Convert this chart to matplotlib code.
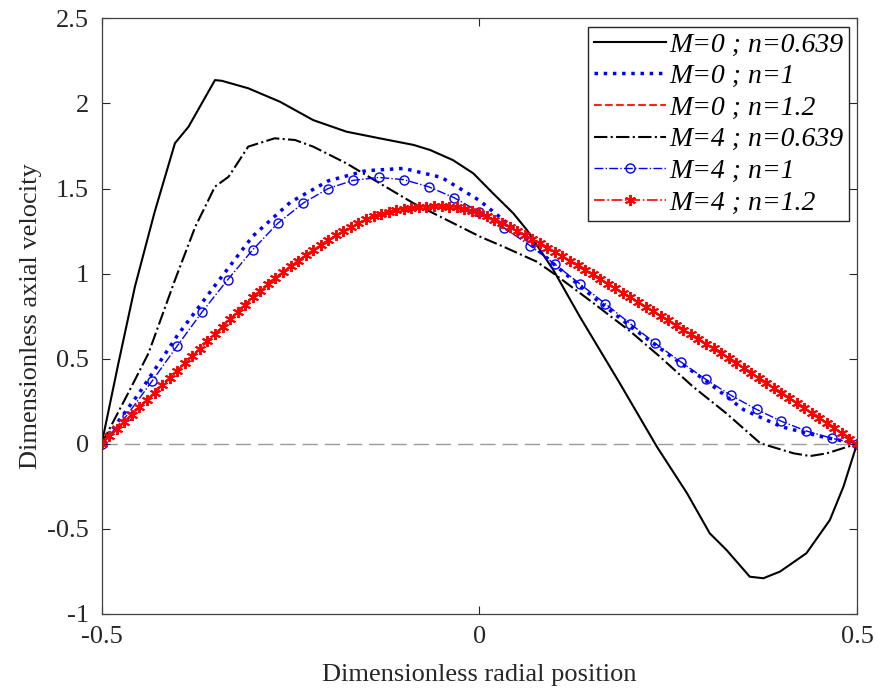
import matplotlib
matplotlib.use('Agg')
import matplotlib.pyplot as plt
import numpy as np

plt.rcParams['font.family'] = ['Liberation Serif', 'DejaVu Serif']
plt.rcParams['axes.unicode_minus'] = False

# M=0 ; n=0.639
x_m0_n0639 = [-0.500, -0.478, -0.456, -0.430, -0.403, -0.385, -0.350, -0.341, -0.306,
              -0.264, -0.220, -0.176, -0.132, -0.087, -0.065, -0.035, -0.008, 0.018,
              0.045, 0.063, 0.098, 0.133, 0.186, 0.235, 0.275, 0.305, 0.327, 0.358,
              0.376, 0.398, 0.433, 0.464, 0.482, 0.500]
u_m0_n0639 = [0.000, 0.470, 0.923, 1.360, 1.766, 1.863, 2.137, 2.133, 2.089,
              2.010, 1.902, 1.834, 1.795, 1.756, 1.726, 1.667, 1.589, 1.472,
              1.354, 1.256, 1.021, 0.747, 0.355, -0.017, -0.291, -0.526, -0.623, -0.781,
              -0.790, -0.751, -0.643, -0.448, -0.252, 0.000]

# M=0 ; n=1
x_m0_n1 = [-0.50, -0.45, -0.40, -0.35, -0.30, -0.25, -0.20, -0.15, -0.10, -0.05, 0.00,
           0.05, 0.10, 0.15, 0.20, 0.25, 0.30, 0.35, 0.40, 0.45, 0.50]
u_m0_n1 = [0.000, 0.300, 0.635, 0.930, 1.220, 1.420, 1.545, 1.605, 1.618, 1.565, 1.430,
           1.250, 1.050, 0.865, 0.690, 0.525, 0.370, 0.200, 0.100, 0.045, 0.000]

# M=0 ; n=1.2
x_m0_n12 = [-0.50, -0.45, -0.40, -0.35, -0.30, -0.25, -0.20, -0.15, -0.10, -0.05, 0.00,
            0.05, 0.10, 0.15, 0.20, 0.25, 0.30, 0.35, 0.40, 0.45, 0.50]
u_m0_n12 = [0.000, 0.215, 0.430, 0.645, 0.860, 1.043, 1.197, 1.318, 1.381, 1.396, 1.355,
            1.250, 1.128, 0.995, 0.860, 0.725, 0.588, 0.445, 0.300, 0.153, 0.000]

# M=4 ; n=0.639
x_m4_n0639 = [-0.500, -0.465, -0.438, -0.403, -0.376, -0.350, -0.332, -0.306, -0.271,
              -0.244, -0.220, -0.176, -0.132, -0.087, -0.043, 0.001, 0.032, 0.076,
              0.098, 0.150, 0.200, 0.239, 0.283, 0.327, 0.372, 0.416, 0.438, 0.460,
              0.495, 0.500]
u_m4_n0639 = [0.000, 0.297, 0.532, 0.962, 1.276, 1.511, 1.569, 1.746, 1.795,
              1.785, 1.746, 1.648, 1.531, 1.413, 1.315, 1.217, 1.158, 1.070,
              1.002, 0.830, 0.660, 0.512, 0.335, 0.179, 0.003, -0.056, -0.072, -0.056,
              -0.007, 0.000]

# M=4 ; n=1
x_m4_n1 = [-0.500, -0.467, -0.433, -0.400, -0.367, -0.333, -0.300, -0.267, -0.233, -0.200,
           -0.167, -0.133, -0.100, -0.067, -0.033, 0.000, 0.033, 0.067, 0.100, 0.133,
           0.167, 0.200, 0.233, 0.267, 0.300, 0.333, 0.367, 0.400, 0.433, 0.467, 0.500]
u_m4_n1 = [0.000, 0.165, 0.370, 0.575, 0.775, 0.965, 1.140, 1.295, 1.415, 1.500,
           1.548, 1.565, 1.552, 1.510, 1.445, 1.362, 1.268, 1.165, 1.055, 0.940,
           0.822, 0.705, 0.590, 0.480, 0.378, 0.285, 0.202, 0.132, 0.075, 0.032, 0.000]

# M=4 ; n=1.2
x_m4_n12 = [-0.50, -0.49, -0.48, -0.47, -0.46, -0.45, -0.44, -0.43, -0.42, -0.41,
            -0.40, -0.39, -0.38, -0.37, -0.36, -0.35, -0.34, -0.33, -0.32, -0.31,
            -0.30, -0.29, -0.28, -0.27, -0.26, -0.25, -0.24, -0.23, -0.22, -0.21,
            -0.20, -0.19, -0.18, -0.17, -0.16, -0.15, -0.14, -0.13, -0.12, -0.11,
            -0.10, -0.09, -0.08, -0.07, -0.06, -0.05, -0.04, -0.03, -0.02, -0.01,
            0.00, 0.01, 0.02, 0.03, 0.04, 0.05, 0.06, 0.07, 0.08, 0.09,
            0.10, 0.11, 0.12, 0.13, 0.14, 0.15, 0.16, 0.17, 0.18, 0.19,
            0.20, 0.21, 0.22, 0.23, 0.24, 0.25, 0.26, 0.27, 0.28, 0.29,
            0.30, 0.31, 0.32, 0.33, 0.34, 0.35, 0.36, 0.37, 0.38, 0.39,
            0.40, 0.41, 0.42, 0.43, 0.44, 0.45, 0.46, 0.47, 0.48, 0.49, 0.50]
u_m4_n12 = [0.000, 0.043, 0.086, 0.129, 0.172, 0.215, 0.258, 0.301, 0.344, 0.387,
            0.430, 0.473, 0.516, 0.559, 0.602, 0.645, 0.688, 0.731, 0.774, 0.817,
            0.860, 0.900, 0.938, 0.975, 1.010, 1.043, 1.076, 1.107, 1.138, 1.168,
            1.197, 1.225, 1.251, 1.275, 1.298, 1.318, 1.336, 1.351, 1.363, 1.373,
            1.381, 1.387, 1.391, 1.394, 1.396, 1.396, 1.394, 1.389, 1.381, 1.370,
            1.355, 1.337, 1.317, 1.296, 1.273, 1.250, 1.226, 1.202, 1.177, 1.153,
            1.128, 1.102, 1.075, 1.049, 1.022, 0.995, 0.968, 0.941, 0.914, 0.887,
            0.860, 0.833, 0.806, 0.779, 0.752, 0.725, 0.698, 0.670, 0.643, 0.615,
            0.588, 0.560, 0.531, 0.502, 0.474, 0.445, 0.416, 0.387, 0.358, 0.329,
            0.300, 0.271, 0.241, 0.212, 0.182, 0.153, 0.122, 0.092, 0.061, 0.031, 0.000]

xticks = [-0.5, 0, 0.5]
xticklabels = ['-0.5', '0', '0.5']
yticks = [-1, -0.5, 0, 0.5, 1, 1.5, 2, 2.5]
yticklabels = ['-1', '-0.5', '0', '0.5', '1', '1.5', '2', '2.5']

fig = plt.figure(figsize=(8.81, 6.94), dpi=100)
ax = fig.add_axes([0.1154, 0.1153, 0.8574, 0.8583])

ax.axhline(0, color='#9a9a9a', linestyle=(0, (11, 5)), linewidth=1.0, zorder=1)

ax.plot(x_m0_n0639, u_m0_n0639, '-', color='black', linewidth=1.5,
        label='M=0 ; n=0.639')
ax.plot(x_m0_n1, u_m0_n1, ':', color='blue', linewidth=2.5,
        label='M=0 ; n=1')
ax.plot(x_m0_n12, u_m0_n12, '--', color='#ff2020', linewidth=1.5,
        label='M=0 ; n=1.2')
ax.plot(x_m4_n0639, u_m4_n0639, '-.', color='black', linewidth=1.5,
        label='M=4 ; n=0.639')
ax.plot(x_m4_n1, u_m4_n1, '-.', color='blue', linewidth=1.0, marker='o',
        markersize=6.5, markerfacecolor='none', markeredgewidth=1.0,
        label='M=4 ; n=1')
ax.plot(x_m4_n12, u_m4_n12, '-.', color='red', linewidth=1.2, marker=(6, 2, 0),
        markersize=8, markeredgewidth=1.4, label='M=4 ; n=1.2')

ax.set_xlim(-0.5, 0.5)
ax.set_ylim(-1, 2.5)
ax.set_xticks(xticks)
ax.set_xticklabels(xticklabels)
ax.set_yticks(yticks)
ax.set_yticklabels(yticklabels)
ax.tick_params(direction='in', length=6, width=0.8, top=True, right=True,
               labelsize=19, colors='#262626', pad=9)
for s in ax.spines.values():
    s.set_color('#404040')
    s.set_linewidth(0.9)

ax.set_xlabel('Dimensionless radial position', fontsize=19, color='#262626', labelpad=11)
ax.set_ylabel('Dimensionless axial velocity', fontsize=19, color='#262626', labelpad=4)

leg = ax.legend(loc='upper right', prop={'family': 'Liberation Serif', 'style': 'italic', 'size': 20},
                frameon=True, fancybox=False, edgecolor='#262626', framealpha=1,
                handlelength=2.6, handletextpad=0.1, borderaxespad=0.3,
                labelspacing=0.22, borderpad=0.2)
leg.get_frame().set_linewidth(1.0)

fig.savefig('out.png', dpi=100)
